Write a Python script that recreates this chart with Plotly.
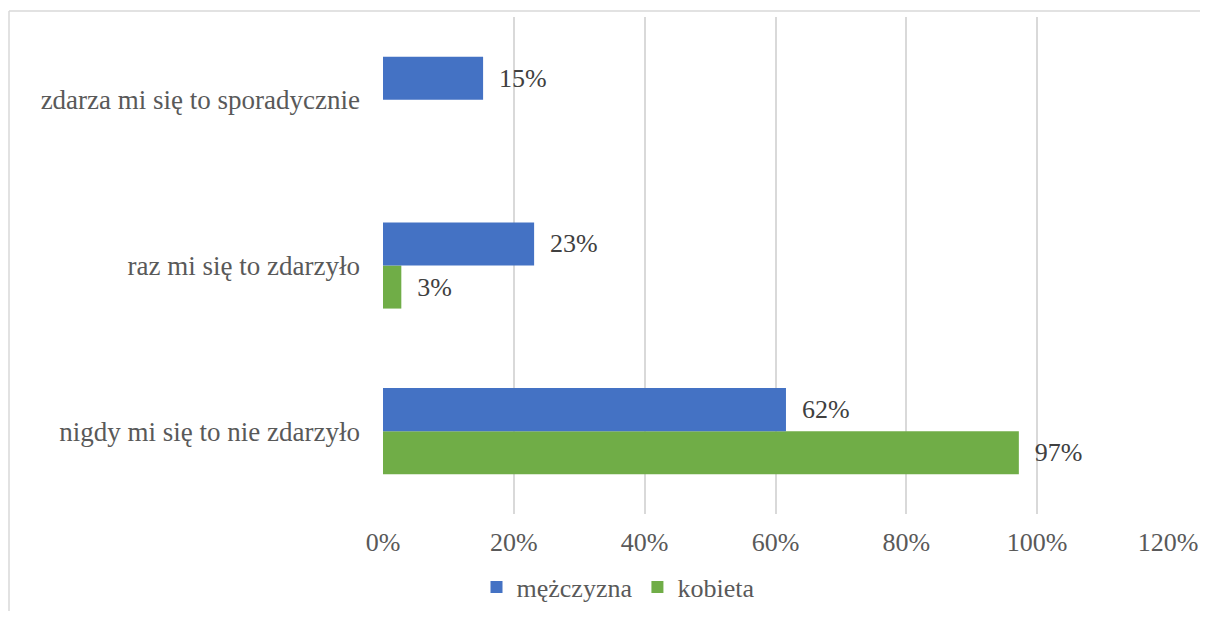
import plotly.graph_objects as go

categories = ["nigdy mi się to nie zdarzyło", "raz mi się to zdarzyło", "zdarza mi się to sporadycznie"]
men_values = [61.6, 23.1, 15.3]
women_values = [97.2, 2.8, 0]
series_names = ["mężczyzna", "kobieta"]
tick_vals = [0, 20, 40, 60, 80, 100, 120]
tick_text = ["0%", "20%", "40%", "60%", "80%", "100%", "120%"]

BLUE = "#4472C4"
GREEN = "#70AD47"
FONT = "Liberation Serif"
FS = 26

def labels(vals):
    return [f"  {v:.0f}%" if v else "" for v in vals]

fig = go.Figure()
fig.add_trace(go.Bar(
    y=categories, x=women_values, name=series_names[1], orientation="h",
    marker=dict(color=GREEN, line=dict(width=0)),
    text=labels(women_values), textposition="outside", cliponaxis=False,
    textfont=dict(family=FONT, size=FS, color="#404040"),
))
fig.add_trace(go.Bar(
    y=categories, x=men_values, name=series_names[0], orientation="h",
    marker=dict(color=BLUE, line=dict(width=0)),
    text=labels(men_values), textposition="outside", cliponaxis=False,
    textfont=dict(family=FONT, size=FS, color="#404040"),
))

OFF = 8  # page body margin
W, H = 1208 - 2 * OFF, 619 - 2 * OFF
L, R, T, B = 383 - OFF, 1168 - OFF, 17 - OFF, 514 - OFF
pw, ph = R - L, B - T

def px_x(p):
    return (p - OFF - L) / pw

def px_y(p):
    return (B - (p - OFF)) / ph

fig.update_layout(
    width=W, height=H,
    margin=dict(l=L, r=W - R, t=T, b=H - B, pad=0, autoexpand=False),
    barmode="group", bargap=0.48, bargroupgap=0,
    plot_bgcolor="white", paper_bgcolor="white",
    font=dict(family=FONT, size=FS, color="#595959"),
    showlegend=True,
    legend=dict(orientation="h", traceorder="reversed",
                x=px_x(618), xanchor="center", y=px_y(587), yanchor="middle",
                font=dict(family=FONT, size=FS, color="#595959"),
                itemsizing="constant"),
)
fig.update_xaxes(range=[0, 120], tickvals=tick_vals, ticktext=tick_text,
                 showgrid=True, gridcolor="#D9D9D9", gridwidth=2,
                 zeroline=False, showline=False, ticks="",
                 tickfont=dict(family=FONT, size=FS, color="#595959"),
                 ticklabelstandoff=10, fixedrange=True, automargin=False)
fig.update_yaxes(showgrid=False, zeroline=False, showline=False, ticks="",
                 tickfont=dict(family=FONT, size=27, color="#595959"),
                 ticklabelstandoff=22, fixedrange=True, automargin=False)

# outer frame: only top and left edges are visible in the reference
fig.add_shape(type="line", xref="paper", yref="paper",
              x0=px_x(9), x1=px_x(1230), y0=px_y(11), y1=px_y(11),
              line=dict(color="#D9D9D9", width=1.5), layer="below")
fig.add_shape(type="line", xref="paper", yref="paper",
              x0=px_x(9), x1=px_x(9), y0=px_y(11), y1=px_y(660),
              line=dict(color="#D9D9D9", width=1.5), layer="below")

fig.write_html("out.html")
